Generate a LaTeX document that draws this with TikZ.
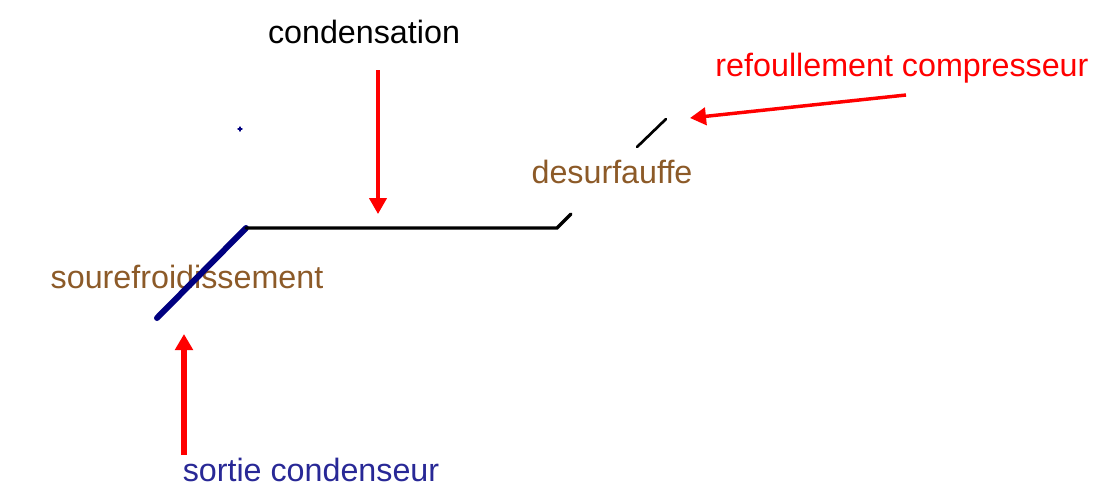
\documentclass[tikz,border=0pt]{standalone}
\usepackage{fontspec}
\setmainfont[Ligatures=NoCommon]{Liberation Sans}
\usetikzlibrary{arrows.meta,calc}
\definecolor{brun}{RGB}{140,90,40}
\definecolor{marine}{RGB}{0,0,128}
\definecolor{bleutxt}{RGB}{40,40,150}
\tikzset{
  lbl/.style={inner sep=0pt,font=\fontsize{24.2}{28}\selectfont},
  fleche/.style={draw=red,line width=3pt,-{Triangle[length=12pt,width=13pt]}}
}
\begin{document}
\begin{tikzpicture}[x=0.75pt,y=-0.75pt]
  \useasboundingbox (0,0) rectangle (1104,494);
  % points du trace
  \coordinate (A) at (157,318);
  \coordinate (B) at (246,228);
  \coordinate (C) at (557,228);
  \coordinate (D) at (571,214);
  \coordinate (E) at (637,147);
  \coordinate (F) at (666,119);
  \coordinate (P) at (240,129);
  % textes
  \node[lbl] (cond) at (364,32) {condensation};
  \node[lbl,text=red] (refoul) at (902,68) {refoullement compresseur};
  \node[lbl,text=brun] (desurf) at (612,172) {desurfauffe};
  \node[lbl,text=brun] (sousref) at (187,277) {sourefroidissement};
  \node[lbl,text=bleutxt] (sortie) at (311,470) {sortie condenseur};
  % bouts des fleches
  \coordinate (c1) at (378,70);
  \coordinate (c2) at (378,214);
  \coordinate (r1) at (906,95);
  \coordinate (r2) at (690,118);
  \coordinate (s1) at (184,455);
  \coordinate (s2) at (184,334);
  \begin{scope}[line cap=round]
    \draw[marine,line width=4.5pt] (A) -- (B);
    \draw[black,line width=2.4pt] (B) -- (C) -- (D);
    \draw[black,line width=2pt] (E) -- (F);
    \draw[marine,line width=1pt] ($(P)+(-2,0)$) -- ($(P)+(2,0)$) ($(P)+(0,-2)$) -- ($(P)+(0,2)$);
  \end{scope}
  \draw[fleche,line width=2.4pt] (c1) -- (c2);
  \draw[fleche,line width=2.6pt] (r1) -- (r2);
  \draw[fleche,line width=4.8pt] (s1) -- (s2);
\end{tikzpicture}
\end{document}
